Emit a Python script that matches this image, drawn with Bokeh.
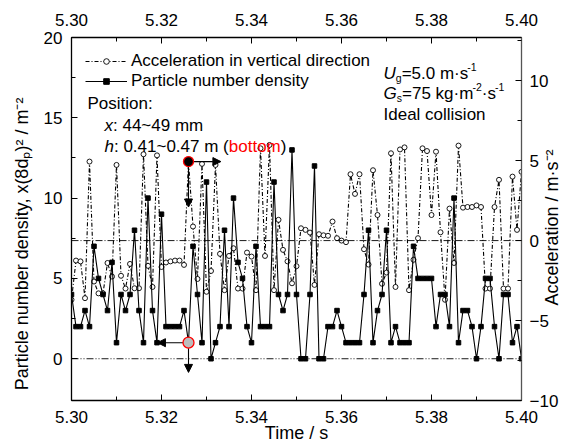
import numpy as np
from bokeh.plotting import figure
from bokeh.models import (Range1d, LinearAxis, FixedTicker, PrintfTickFormatter, Span, Label,
                          Legend, LegendItem, Arrow, NormalHead)
from bokeh.embed import file_html
from bokeh.resources import INLINE

# ---------------- data ----------------
time = [5.300, 5.301, 5.302, 5.303, 5.304, 5.305, 5.306, 5.307, 5.308, 5.309,
        5.310, 5.311, 5.312, 5.313, 5.314, 5.315, 5.316, 5.317, 5.318, 5.319,
        5.320, 5.321, 5.322, 5.323, 5.324, 5.325, 5.326, 5.327, 5.328, 5.329,
        5.330, 5.331, 5.332, 5.333, 5.334, 5.335, 5.336, 5.337, 5.338, 5.339,
        5.340, 5.341, 5.342, 5.343, 5.344, 5.345, 5.346, 5.347, 5.348, 5.349,
        5.350, 5.351, 5.352, 5.353, 5.354, 5.355, 5.356, 5.357, 5.358, 5.359,
        5.360, 5.361, 5.362, 5.363, 5.364, 5.365, 5.366, 5.367, 5.368, 5.369,
        5.370, 5.371, 5.372, 5.373, 5.374, 5.375, 5.376, 5.377, 5.378, 5.379,
        5.380, 5.381, 5.382, 5.383, 5.384, 5.385, 5.386, 5.387, 5.388, 5.389,
        5.390, 5.391, 5.392, 5.393, 5.394, 5.395, 5.396, 5.397, 5.398, 5.399,
        5.400]

density = [4, 2, 2, 3, 2, 7, 5, 4, 3, 6,
           1, 4, 3, 4, 8, 3, 1, 10, 3, 1,
           9, 2, 2, 2, 2, 3, 1, 7, 4, 1,
           11, 0, 1, 2, 8, 2, 10, 6, 5, 2,
           1, 7, 2, 2, 2, 11, 4, 3, 4, 13,
           4, 0, 0, 4, 12, 0, 0, 2, 2, 3,
           2, 1, 1, 1, 1, 4, 8, 1, 3, 4,
           8, 1, 2, 1, 1, 1, 7, 5, 5, 5,
           5, 2, 4, 4, 2, 10, 1, 3, 3, 2,
           0, 2, 5, 5, 2, 0, 4, 4, 1, 2,
           0]

acceleration = [-3.7, -1.25, -1.3, -3.6, 4.94, -2.56, -3.3, -3.3, -1.4, -2.25,
                4.73, -2.2, -3.0, -1.46, -2.98, -2.98, 5.4, -1.58, -2.9, 5.33,
                -1.65, -1.37, -1.3, -1.25, -1.25, -1.52, 4.94, 0.88, -2.4, 4.8,
                -3.2, -1.9, 4.73, -0.83, -3.1, -0.96, -0.48, -3.0, -3.0, -0.75,
                -1.0, -3.1, 5.77, -0.96, 5.98, -3.1, 1.3, -0.58, -1.3, -2.67,
                -1.6, 0.77, 0.67, 0.5, -2.77, 0.4, 0.33, 0.3, 1.19, 0.15,
                0.0, -0.1, 4.15, 2.92, 4.15, -0.54, -1.5, 4.4, 1.6, -2.7,
                -2.0, 5.46, -2.9, 5.7, 5.83, -3.1, -1.2, 0.15, 5.77, 5.6,
                1.6, 5.56, 0.52, -3.7, 2.0, -1.4, 5.94, 2.06, 2.1, 2.1,
                2.2, 2.1, -3.0, -3.0, 2.1, 3.8, -3.0, -3.0, 4.0, 0.67,
                4.3]

x_major = [5.30, 5.32, 5.34, 5.36, 5.38, 5.40]
x_minor = [5.31, 5.33, 5.35, 5.37, 5.39]
left_major = [0, 5, 10, 15, 20]
left_minor = [2.5, 7.5, 12.5, 17.5]
right_major = [-10, -5, 0, 5, 10]
right_minor = [-7.5, -2.5, 2.5, 7.5, 12.5]

highlight = 26            # index of the marked sample (t = 5.326 s)
arrow_right_to = 5.3332   # time where the right-pointing arrow ends
arrow_left_to = 5.3191    # time where the left-pointing arrow ends
acc_arrow_down_to = 2.1   # acceleration where the downward arrow ends
den_arrow_down_to = -0.85 # density where the downward arrow ends

# ---------------- figure ----------------
W, H = 576, 446
FL, FT, FR, FB = 71, 37, 521, 400   # frame edges in page pixels
FONT = "Liberation Sans"
NB = "\u00a0"

p = figure(width=W, height=H, x_range=Range1d(5.30, 5.40), y_range=Range1d(-2.6, 20.0),
           output_backend="svg", toolbar_location=None,
           min_border_left=FL, min_border_right=W - FR, min_border_top=FT,
           min_border_bottom=H - FB)
p.extra_y_ranges = {"acc": Range1d(-10.0, 12.7)}
p.xgrid.visible = False
p.ygrid.visible = False
p.outline_line_color = "black"
p.outline_line_width = 1.0
p.background_fill_color = "white"
p.border_fill_color = "white"

def style_axis(ax, standoff):
    ax.major_tick_in = 6
    ax.major_tick_out = 0
    ax.minor_tick_in = 4
    ax.minor_tick_out = 0
    ax.axis_line_width = 1.3
    ax.axis_line_color = "black"
    ax.major_tick_line_color = "black"
    ax.minor_tick_line_color = "black"
    ax.major_label_text_font = FONT
    ax.major_label_text_font_size = "17px"
    ax.major_label_text_color = "black"
    ax.major_label_standoff = standoff
    ax.axis_label_text_font = FONT
    ax.axis_label_text_font_size = "18px"
    ax.axis_label_text_font_style = "normal"
    ax.axis_label_text_color = "black"

# bottom axis
xb = p.xaxis[0]
xb.ticker = FixedTicker(ticks=x_major, minor_ticks=x_minor)
xb.formatter = PrintfTickFormatter(format="%.2f")
style_axis(xb, 10)
xb.axis_label = "Time / s"
xb.axis_label_standoff = -3

# top axis
xt = LinearAxis(ticker=FixedTicker(ticks=x_major, minor_ticks=x_minor),
                formatter=PrintfTickFormatter(format="%.2f"))
style_axis(xt, 12)
p.add_layout(xt, "above")

# left axis (title nudged downwards like the reference)
yl = p.yaxis[0]
yl.ticker = FixedTicker(ticks=left_major, minor_ticks=left_minor)
style_axis(yl, 9)
yl.axis_label = "Particle number density, x(8dₚ)² / m⁻²" + NB * 10
yl.axis_label_standoff = 9

# right axis (title reads bottom-to-top as in the reference)
yr = LinearAxis(y_range_name="acc", ticker=FixedTicker(ticks=right_major, minor_ticks=right_minor))
style_axis(yr, 8)
yr.axis_line_color = "#555555"
yr.axis_label = NB * 19 + "Acceleration / m·s⁻²"
yr.axis_label_standoff = -9
try:
    yr.axis_label_orientation = np.pi / 2
except Exception:
    pass
for al in ("start", "left"):
    try:
        yr.axis_label_align = al
        break
    except Exception:
        pass
p.add_layout(yr, "right")

# zero reference lines
p.add_layout(Span(location=0, dimension="width", line_color="black", line_width=0.9,
                  line_dash="7 2 1 2 1 2"))
p.add_layout(Span(location=0, dimension="width", y_range_name="acc", line_color="black",
                  line_width=0.9, line_dash="7 2 1 2"))

# series
acc_line = p.line(time, acceleration, y_range_name="acc", line_color="black",
                  line_width=1.1, line_dash="4 2 1 2")
acc_pts = p.scatter(time, acceleration, y_range_name="acc", marker="circle", size=5,
                    fill_color="white", line_color="black", line_width=0.9)
den_line = p.line(time, density, line_color="black", line_width=1.1)
den_pts = p.scatter(time, density, marker="square", size=4.5, fill_color="black",
                    line_color="black")

# arrows + highlighted points
head = lambda: NormalHead(size=8, fill_color="black", line_color="black")
th = time[highlight]
p.add_layout(Arrow(end=head(), x_start=th, y_start=acceleration[highlight],
                   x_end=arrow_right_to, y_end=acceleration[highlight],
                   y_range_name="acc", line_width=1.1))
p.add_layout(Arrow(end=head(), x_start=th, y_start=acceleration[highlight],
                   x_end=th, y_end=acc_arrow_down_to, y_range_name="acc", line_width=1.1))
p.add_layout(Arrow(end=head(), x_start=th, y_start=density[highlight],
                   x_end=arrow_left_to, y_end=density[highlight], line_width=1.1))
p.add_layout(Arrow(end=head(), x_start=th, y_start=density[highlight],
                   x_end=th, y_end=den_arrow_down_to, line_width=1.1))
hi_acc = p.scatter([th], [acceleration[highlight]], y_range_name="acc", marker="circle",
                   size=10, fill_color="black", line_color="red", line_width=1.3)
hi_den = p.scatter([th], [density[highlight]], marker="circle", size=11,
                   fill_color="#bdbdbd", line_color="red", line_width=1.3)
hi_acc.level = "overlay"
hi_den.level = "overlay"

# legend
legend = Legend(items=[LegendItem(label="Acceleration in vertical direction",
                                  renderers=[acc_line, acc_pts]),
                       LegendItem(label="Particle number density",
                                  renderers=[den_line, den_pts])],
                location="top_left", margin=14, padding=0, spacing=0,
                glyph_width=42, glyph_height=14, label_height=14, label_standoff=4,
                label_text_font=FONT, label_text_font_size="17px",
                label_text_color="black",
                background_fill_alpha=0, border_line_color=None)
p.add_layout(legend)

# ---------------- rich text helper (page pixel positions -> frame screen units) ----------------
AW = {' ': 278, '(': 333, ')': 333, ',': 278, '-': 333, '.': 278, '/': 278, ':': 278,
      '=': 584, '~': 584, '·': 278, 'A': 667, 'G': 778, 'I': 278, 'P': 667, 'T': 611,
      'U': 722, 'a': 556, 'b': 556, 'c': 500, 'd': 556, 'e': 556, 'g': 556, 'h': 556,
      'i': 222, 'k': 500, 'l': 222, 'm': 833, 'n': 556, 'o': 556, 'p': 556, 'r': 333,
      's': 500, 't': 278, 'u': 556, 'v': 500, 'x': 500, 'y': 500}

def text_width(s, size):
    return sum(AW.get(c, 556) for c in s) / 1000.0 * size

def put(x, y, txt, **kw):
    p.add_layout(Label(x=x - FL, y=FB - y, x_units="screen", y_units="screen", text=txt,
                       text_font=FONT, **kw))

def rich(x, baseline, runs, size=17):
    for txt, kind, color, italic in runs:
        if kind == "sub":
            fs, dy = size * 0.62, 4
        elif kind == "sup":
            fs, dy = size * 0.62, -7
        else:
            fs, dy = size, 0
        put(x, baseline + dy, txt, text_font_size=f"{fs:.1f}px",
            text_font_style="italic" if italic else "normal",
            text_color=color, text_align="left", text_baseline="alphabetic")
        x += text_width(txt, fs)

N, SB, SP = "n", "sub", "sup"
rich(87, 103, [("Position:", N, "black", False)])
rich(104, 125, [("x", N, "black", True), (": 44~49 mm", N, "black", False)])
rich(104, 146, [("h", N, "black", True), (": 0.41~0.47 m (", N, "black", False),
                ("bottom", N, "red", False), (")", N, "black", False)])
rich(383, 73, [("U", N, "black", True), ("g", SB, "black", False),
               ("=5.0 m·s", N, "black", False), ("-1", SP, "black", False)])
rich(383, 93, [("G", N, "black", True), ("s", SB, "black", False),
               ("=75 kg·m", N, "black", False), ("-2", SP, "black", False),
               ("·s", N, "black", False), ("-1", SP, "black", False)])
rich(383, 114, [("Ideal collision", N, "black", False)])

open("out.html", "w").write(file_html(p, INLINE))
